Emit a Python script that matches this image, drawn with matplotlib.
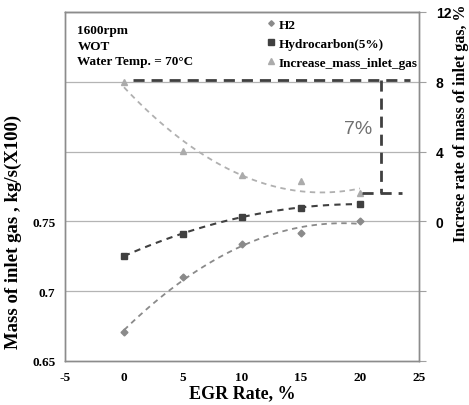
import matplotlib
matplotlib.use('Agg')
import matplotlib.pyplot as plt
import numpy as np

# dados
egr = [0, 5, 10, 15, 20]
h2 = [0.6707, 0.7102, 0.7336, 0.7419, 0.7500]
hidrocarb = [0.7252, 0.7412, 0.7534, 0.7598, 0.7624]
aumento = [7.97, 4.06, 2.63, 2.30, 1.60]

xticks = [-5, 0, 5, 10, 15, 20, 25]
yticks_esq = [0.65, 0.7, 0.75, 0.8, 0.85, 0.9]
ylabels_esq = ['0.65', '0.7', '0.75', '', '', '']
yticks_dir = [-8, -4, 0, 4, 8, 12]
ylabels_dir = ['', '', '0', '4', '8', '12']

serif = 'Liberation Serif'
sans = 'Liberation Sans'

fig = plt.figure(figsize=(4.69, 4.06), dpi=100)
ax = fig.add_axes([0.1386, 0.1084, 0.7548, 0.8596])
ax2 = ax.twinx()

ax.set_xlim(-5, 25)
ax.set_ylim(0.65, 0.9)
ax2.set_ylim(-8, 12)

# grade
for y in yticks_esq[1:-1]:
    ax.axhline(y, color='#b4b4b4', lw=0.9, zorder=0)

# linhas de tendencia (polinomio de 2a ordem)
xx = np.linspace(0, 20, 100)
c_h2 = np.polyfit(egr, h2, 2)
c_hc = np.polyfit(egr, hidrocarb, 2)
c_au = np.polyfit(egr, aumento, 2)
ax.plot(xx, np.polyval(c_h2, xx), ls=(0, (3, 2.5)), color='#8a8a8a', lw=1.3)
ax.plot(xx, np.polyval(c_hc, xx), ls=(0, (3, 2.5)), color='#404040', lw=1.5)
ax2.plot(xx, np.polyval(c_au, xx), ls=(0, (3, 2.5)), color='#b0b0b0', lw=1.3)

# pontos
p1, = ax.plot(egr, h2, 'D', color='#8a8a8a', ms=3.5, ls='none', label='H2')
p2, = ax.plot(egr, hidrocarb, 's', color='#404040', ms=5, ls='none', label='Hydrocarbon(5%)')
p3, = ax2.plot(egr, aumento, '^', color='#ababab', ms=5, ls='none', label='Increase_mass_inlet_gas')

# marcacao de 7%
dash = (0, (4, 2.5))
ax2.plot([0.75, 24.2], [8.1, 8.1], ls=dash, color='#404040', lw=2)
ax2.plot([21.75, 21.75], [8.1, 1.65], ls=dash, color='#404040', lw=2)
ax2.plot([20.2, 23.6], [1.65, 1.65], ls=dash, color='#404040', lw=2)
ax2.text(19.8, 5.3, '7%', family=sans, fontsize=14, color='#707070', ha='center', va='center')

# eixos
ax.set_xticks(xticks)
ax.set_xticklabels([str(t) for t in xticks], family=serif, fontweight='bold', fontsize=9.5)
ax.set_yticks(yticks_esq)
ax.set_yticklabels(ylabels_esq, family=serif, fontweight='bold', fontsize=9.5)
ax.tick_params(axis='both', length=0, pad=7)
ax2.set_yticks(yticks_dir)
ax2.set_yticklabels(ylabels_dir, family=sans, fontweight='bold', fontsize=10)
ax2.tick_params(axis='y', length=5, color='#a0a0a0', pad=7)

for a in (ax, ax2):
    for s in a.spines.values():
        s.set_color('#8c8c8c')
        s.set_linewidth(1)
ax.spines['top'].set_color('#505050')

ax.set_xlabel('EGR Rate, %', family=serif, fontweight='bold', fontsize=13, labelpad=1)
fig.text(13 / 469, 1 - 232 / 406, 'Mass of inlet gas , kg/s(X100)', rotation=90,
         family=serif, fontweight='bold', fontsize=13.5, ha='center', va='center')
fig.text(461 / 469, 1 - 242 / 406, 'Increse rate of mass of inlet gas, %', rotation=90,
         family=serif, fontweight='bold', fontsize=11.5, ha='center', va='bottom')

ax.text(0.035, 0.965, '1600rpm\nWOT\nWater Temp. = 70°C', transform=ax.transAxes,
        family=serif, fontweight='bold', fontsize=9.5, va='top', ha='left', linespacing=1.4)

leg = ax.legend(handles=[p1, p2, p3], loc='upper left', bbox_to_anchor=(0.537, 1.015),
                frameon=False, handlelength=0.6, handletextpad=0.3, labelspacing=0.5,
                prop={'family': serif, 'weight': 'bold', 'size': 9.5}, markerscale=0.8)

plt.savefig('out.png', dpi=100)
